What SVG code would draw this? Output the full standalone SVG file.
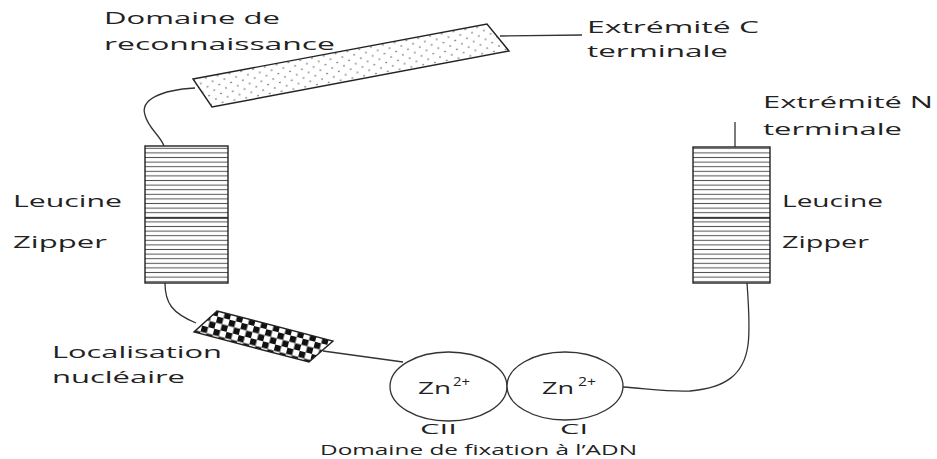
<svg xmlns="http://www.w3.org/2000/svg" width="937" height="459" viewBox="0 0 937 459">
<style>
.t{font-family:"Open Sans","Liberation Sans",sans-serif;font-size:17px;fill:#222}
.s{font-family:"Open Sans","Liberation Sans",sans-serif;font-size:15px;fill:#222}
.sup{font-family:"Open Sans","Liberation Sans",sans-serif;font-size:12px;fill:#222}
.ln{fill:none;stroke:#333;stroke-width:1.3}
.box{stroke:#222;stroke-width:1.4}
</style>
<defs>
<pattern id="hl" x="0" y="146" width="10" height="4.6" patternUnits="userSpaceOnUse">
<rect width="10" height="4.6" fill="#fff"/>
<line x1="0" y1="2.3" x2="10" y2="2.3" stroke="#555" stroke-width="1"/>
</pattern>
<pattern id="dots" width="12" height="9" patternUnits="userSpaceOnUse" patternTransform="rotate(-10.6)">
<rect width="12" height="9" fill="#fff"/>
<circle cx="2" cy="2" r="0.75" fill="#444"/>
<circle cx="8" cy="6.5" r="0.75" fill="#444"/>
</pattern>
<pattern id="chk" width="12.6" height="12.6" patternUnits="userSpaceOnUse" patternTransform="rotate(14.5)">
<rect width="12.6" height="12.6" fill="#fff"/>
<rect width="6.3" height="6.3" fill="#111"/>
<rect x="6.3" y="6.3" width="6.3" height="6.3" fill="#111"/>
</pattern>
</defs>
<g id="connectors">
<path class="ln" d="M195,88 C160,90 140,100 145,115 C148,128 160,135 164,146"/>
<path class="ln" d="M165,283 C165,303 172,313 196,323"/>
<path class="ln" d="M323,351 L403,362"/>
<path class="ln" d="M500,36 L582,35"/>
<path class="ln" d="M735,122 L735,147"/>
<path class="ln" d="M747,283 C749,310 750,330 748,345 C744,375 725,388 690,391 C670,392 650,389 623,387"/>
</g>
<g id="recognition-domain">
<polygon class="box" points="193,79 487,24 509,51 212,107" fill="url(#dots)"/>
<text class="t" x="104" y="24" textLength="176" lengthAdjust="spacingAndGlyphs">Domaine de</text>
<text class="t" x="104" y="50" textLength="231" lengthAdjust="spacingAndGlyphs">reconnaissance</text>
</g>
<g id="c-terminal">
<text class="t" x="587" y="33" textLength="172" lengthAdjust="spacingAndGlyphs">Extrémité C</text>
<text class="t" x="587" y="57" textLength="141" lengthAdjust="spacingAndGlyphs">terminale</text>
</g>
<g id="n-terminal">
<text class="t" x="763" y="108" textLength="170" lengthAdjust="spacingAndGlyphs">Extrémité N</text>
<text class="t" x="763" y="135" textLength="139" lengthAdjust="spacingAndGlyphs">terminale</text>
</g>
<g id="left-zipper">
<rect class="box" x="145" y="146" width="83" height="137" fill="url(#hl)"/>
<line x1="145" y1="218" x2="228" y2="218" stroke="#222" stroke-width="1.3"/>
<text class="t" x="13" y="207" textLength="109" lengthAdjust="spacingAndGlyphs">Leucine</text>
<text class="t" x="13" y="248" textLength="94" lengthAdjust="spacingAndGlyphs">Zipper</text>
</g>
<g id="right-zipper">
<rect class="box" x="693" y="147" width="77" height="136" fill="url(#hl)"/>
<line x1="693" y1="218" x2="770" y2="218" stroke="#222" stroke-width="1.3"/>
<text class="t" x="782" y="207" textLength="101" lengthAdjust="spacingAndGlyphs">Leucine</text>
<text class="t" x="782" y="248" textLength="87" lengthAdjust="spacingAndGlyphs">Zipper</text>
</g>
<g id="nuclear-localisation">
<polygon class="box" points="217,311 333,341 309,362 194,332" fill="url(#chk)"/>
<text class="t" x="52" y="358" textLength="170" lengthAdjust="spacingAndGlyphs">Localisation</text>
<text class="t" x="52" y="383" textLength="133" lengthAdjust="spacingAndGlyphs">nucléaire</text>
</g>
<g id="zinc-finger-CII">
<ellipse cx="448.5" cy="386.5" rx="58.5" ry="34.5" fill="#fff" stroke="#333" stroke-width="1.3"/>
<text class="t" x="418" y="394" textLength="33" lengthAdjust="spacingAndGlyphs">Zn</text>
<text class="sup" x="453" y="386" textLength="17" lengthAdjust="spacingAndGlyphs">2+</text>
<text class="s" x="420" y="434" textLength="37" lengthAdjust="spacingAndGlyphs">CII</text>
</g>
<g id="zinc-finger-CI">
<ellipse cx="565" cy="386" rx="58" ry="34" fill="#fff" stroke="#333" stroke-width="1.3"/>
<text class="t" x="542" y="394" textLength="32" lengthAdjust="spacingAndGlyphs">Zn</text>
<text class="sup" x="578" y="386" textLength="18" lengthAdjust="spacingAndGlyphs">2+</text>
<text class="s" x="560" y="434" textLength="28" lengthAdjust="spacingAndGlyphs">CI</text>
</g>
<g id="dna-binding-label">
<text class="s" x="320" y="455" textLength="317" lengthAdjust="spacingAndGlyphs">Domaine de fixation à l’ADN</text>
</g>
</svg>
